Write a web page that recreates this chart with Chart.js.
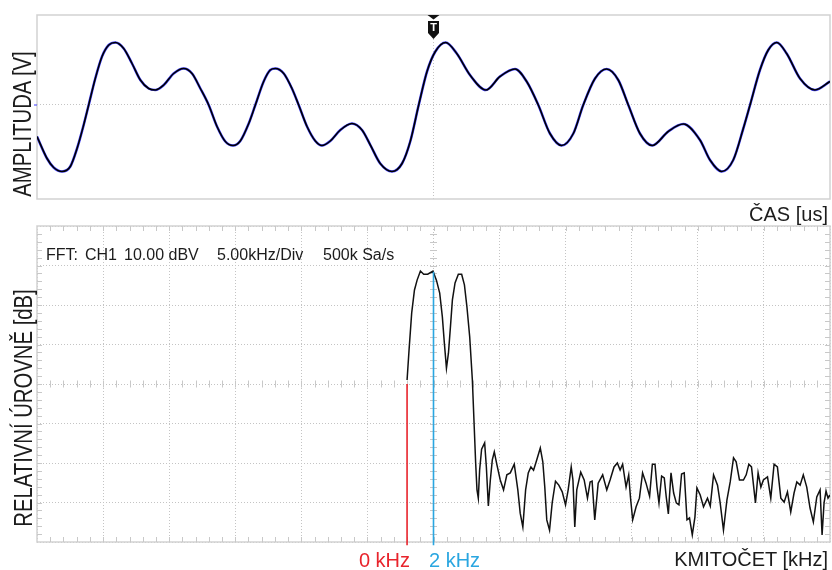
<!DOCTYPE html>
<html lang="cs">
<head>
<meta charset="utf-8">
<title>Osciloskop - FFT</title>
<script src="https://cdn.jsdelivr.net/npm/chart.js@4.4.1/dist/chart.umd.min.js"></script>
<style>
    body { margin: 0; background: #fff; width: 832px; height: 570px; overflow: hidden; position: relative; font-family: "Liberation Sans", Arial, sans-serif; color: #1c1c1c; }
    canvas { position: absolute; left: 0; }
    #chartTime { top: 0; }
    #chartFft { top: 205px; }
    .lbl { position: absolute; font-size: 20px; line-height: 20px; white-space: nowrap; }
    .fft { position: absolute; font-size: 16px; line-height: 16px; white-space: nowrap; top: 247px; }
    .ytitle { position: absolute; width: 0; height: 0; }
    .ytitle span { position: absolute; left: 0; top: 0; font-size: 26px; line-height: 26px; white-space: nowrap;
        transform: translate(-50%, -50%) rotate(-90deg) scaleX(0.78); }
</style>
</head>
<body>
<canvas id="chartTime" width="832" height="205"></canvas>
<canvas id="chartFft" width="832" height="365"></canvas>

<div class="ytitle" style="left:22px; top:124px;"><span>AMPLITUDA [V]</span></div>
<div class="ytitle" style="left:22.5px; top:408px;"><span>RELATIVNÍ ÚROVNĚ [dB]</span></div>
<div class="lbl" style="right:4px; top:204px;">ČAS [us]</div>
<div class="lbl" style="right:4px; top:549px;">KMITOČET [kHz]</div>
<div class="lbl" style="right:422px; top:550px; color:#e8242c;">0 kHz</div>
<div class="lbl" style="left:429px; top:550px; color:#2aa6e0;">2 kHz</div>

<div class="fft" style="left:46px;">FFT:</div>
<div class="fft" style="left:85px;">CH1</div>
<div class="fft" style="left:124px;">10.00 dBV</div>
<div class="fft" style="left:217px;">5.00kHz/Div</div>
<div class="fft" style="left:323px;">500k Sa/s</div>

<script>
// ---- casovy prubeh (horni graf) ----
const WAVE_T = [-300, -292.4, -287.4, -281.1, -274.8, -269.7, -264.7, -260.9, -255.9, -250.8,
    -245.7, -240.7, -234.4, -228.1, -221.8, -215.5, -210.5, -204.1, -196.6, -189.0,
    -182.7, -176.4, -170.1, -163.8, -157.5, -151.7, -146.2, -139.8, -134.8, -128.5,
    -123.5, -119.7, -113.3, -107.1, -102.0, -95.7, -89.4, -84.4, -78.1, -70.5,
    -61.7, -54.1, -47.8, -40.3, -31.4, -23.8, -17.6, -11.2, -4.9, 1.4,
    9.2, 17.6, 27.6, 39.7, 50.3, 61.7, 70.5, 79.3, 88.1, 97.0,
    105.8, 113.3, 122.2, 131.0, 139.8, 147.4, 156.2, 165.5, 177.6, 189.0,
    201.6, 209.2, 218.1, 226.8, 234.4, 239.5, 247.0, 253.3, 259.7, 267.2,
    277.3, 288.6, 300];
const WAVE_V = [-0.63, -1.07, -1.25, -1.33, -1.23, -0.87, -0.40, 0, 0.53, 0.97,
    1.20, 1.25, 1.13, 0.83, 0.50, 0.33, 0.30, 0.40, 0.63, 0.73,
    0.63, 0.33, 0, -0.43, -0.73, -0.81, -0.72, -0.37, 0, 0.47,
    0.70, 0.73, 0.63, 0.33, 0, -0.43, -0.72, -0.81, -0.72, -0.50,
    -0.37, -0.50, -0.80, -1.17, -1.33, -1.17, -0.73, 0, 0.67, 1.07,
    1.25, 1.03, 0.60, 0.30, 0.57, 0.72, 0.47, 0, -0.57, -0.81,
    -0.57, 0, 0.53, 0.72, 0.50, 0, -0.57, -0.81, -0.53, -0.38,
    -0.70, -1.10, -1.33, -1.10, -0.47, 0, 0.70, 1.10, 1.25, 1.03,
    0.53, 0.30, 0.47];
const TIME_RANGE = [-300, 300];
const AMP_RANGE = [-1.88, 1.8];
const TIME_GRID = [0];
const AMP_GRID = [0];

// ---- spektrum (dolni graf) ----
const SPEC_F = [0, 0.15, 0.35, 0.56, 0.76, 1.01, 1.26, 1.56, 1.96, 2.22,
    2.47, 2.67, 2.82, 2.98, 3.13, 3.28, 3.43, 3.63, 3.88, 4.13,
    4.34, 4.53, 4.74, 4.94, 5.09, 5.19, 5.29, 5.39, 5.49, 5.64,
    5.87, 6.00, 6.15, 6.30, 6.45, 6.60, 6.80, 7.05, 7.30, 7.55,
    7.81, 8.11, 8.38, 8.56, 8.76, 8.97, 9.17, 9.37, 9.57, 9.77,
    10.08, 10.27, 10.42, 10.57, 10.78, 10.98, 11.23, 11.48, 11.74, 11.99,
    12.19, 12.42, 12.55, 12.69, 12.84, 13.14, 13.40, 13.65, 13.85, 14.00,
    14.20, 14.46, 14.80, 15.11, 15.36, 15.66, 15.91, 16.12, 16.31, 16.57,
    16.77, 16.90, 17.07, 17.33, 17.58, 17.82, 18.08, 18.35, 18.56, 18.76,
    18.91, 19.06, 19.26, 19.46, 19.61, 19.77, 19.97, 20.17, 20.37, 20.57,
    20.77, 20.97, 21.18, 21.37, 21.58, 21.78, 21.93, 22.18, 22.43, 22.73,
    22.94, 23.19, 23.49, 23.69, 23.94, 24.20, 24.45, 24.70, 24.90, 25.15,
    25.45, 25.66, 25.86, 26.06, 26.36, 26.56, 26.77, 26.96, 27.27, 27.52,
    27.77, 28.02, 28.28, 28.53, 28.78, 29.03, 29.28, 29.49, 29.74, 29.98,
    30.24, 30.49, 30.74, 31.00, 31.25, 31.40, 31.55, 31.70, 31.85, 32.00];
const SPEC_DB = [-29.0, -21.4, -12.0, -6.2, -3.7, -1.4, -2.2, -2.2, -1.4, -3.7,
    -7.0, -13.0, -19.6, -26.0, -22.2, -15.6, -8.7, -4.4, -2.2, -2.2,
    -4.9, -10.5, -18.1, -29.0, -41.6, -50.0, -56.8, -58.9, -51.8, -46.5,
    -44.9, -51.0, -60.9, -54.3, -49.2, -47.2, -50.5, -54.3, -56.8, -53.0,
    -52.5, -50.3, -56.8, -62.7, -66.2, -56.8, -52.5, -51.0, -51.8, -49.7,
    -46.2, -49.7, -56.1, -64.4, -67.0, -60.1, -54.6, -55.6, -57.3, -60.6,
    -56.8, -51.0, -54.3, -66.2, -56.8, -52.3, -54.3, -58.9, -54.8, -54.6,
    -64.4, -55.1, -53.0, -56.8, -54.3, -51.0, -50.0, -51.8, -50.3, -56.1,
    -53.0, -58.6, -64.4, -61.1, -58.9, -52.5, -55.1, -58.4, -50.3, -50.3,
    -56.1, -60.1, -53.3, -53.8, -58.6, -62.9, -52.5, -57.6, -60.1, -60.6,
    -52.8, -52.5, -64.4, -63.9, -68.2, -63.7, -56.3, -58.1, -61.1, -58.9,
    -60.9, -53.0, -55.6, -60.1, -67.0, -59.4, -54.8, -48.7, -49.7, -54.3,
    -54.3, -53.0, -50.3, -51.0, -60.1, -52.5, -56.1, -54.3, -53.5, -58.9,
    -50.3, -51.0, -58.9, -59.9, -57.3, -62.4, -57.6, -54.8, -55.6, -53.0,
    -56.1, -61.4, -64.9, -58.6, -56.8, -68.2, -60.1, -57.1, -58.9, -58.1];
const FREQ_RANGE = [-28, 32];
const DB_RANGE = [-70, 10];
const FREQ_GRID = [-28, -23, -18, -13, -8, -3, 2, 7, 12, 17, 22, 27, 32];
const DB_GRID = [-70, -60, -50, -40, -30, -20, -10, 0, 10];

// znacky 0 kHz a 2 kHz
const MARK_F = [0, 2];
const MARK_TOP = [-30, -1.6];
const MARK_BOTTOM = -70.8;
const MARK_COLORS = ['#e8242c', '#2aa6e0'];

const GRID_COLOR = '#c4c4c4';
const FRAME_COLOR = '#d2d2d2';

function toPoints(xs, ys) {
    return xs.map((x, i) => ({ x: x, y: ys[i] }));
}

function gridAxis(range, ticks) {
    return {
        type: 'linear',
        min: range[0],
        max: range[1],
        afterBuildTicks: axis => { axis.ticks = ticks.map(v => ({ value: v })); },
        ticks: { display: false },
        grid: { color: GRID_COLOR, lineWidth: 1, drawTicks: false },
        border: { display: false, dash: [1, 2] }
    };
}

function drawFrame(chart) {
    const { ctx, chartArea: a } = chart;
    ctx.save();
    ctx.strokeStyle = FRAME_COLOR;
    ctx.lineWidth = 1.5;
    ctx.strokeRect(a.left, a.top, a.right - a.left, a.bottom - a.top);
    ctx.restore();
}

const timePlugin = {
    id: 'timeDeco',
    beforeDatasetsDraw(chart) {
        drawFrame(chart);
        // znacka nulove urovne vlevo
        const y0 = chart.scales.y.getPixelForValue(0);
        const ctx = chart.ctx;
        ctx.save();
        ctx.strokeStyle = '#3b3bff';
        ctx.lineWidth = 1;
        ctx.beginPath();
        ctx.moveTo(chart.chartArea.left - 3, y0);
        ctx.lineTo(chart.chartArea.left, y0);
        ctx.stroke();
        ctx.restore();
    },
    afterDatasetsDraw(chart) {
        // znacka triggeru
        const ctx = chart.ctx;
        const x = chart.scales.x.getPixelForValue(0);
        const top = chart.chartArea.top;
        ctx.save();
        ctx.fillStyle = '#111';
        ctx.beginPath();
        ctx.moveTo(x - 6, top);
        ctx.lineTo(x + 6, top);
        ctx.lineTo(x, top + 4.5);
        ctx.closePath();
        ctx.fill();
        ctx.beginPath();
        ctx.moveTo(x - 5.5, top + 6);
        ctx.lineTo(x + 5.5, top + 6);
        ctx.lineTo(x + 5.5, top + 18);
        ctx.lineTo(x, top + 24);
        ctx.lineTo(x - 5.5, top + 18);
        ctx.closePath();
        ctx.fill();
        ctx.fillStyle = '#fff';
        ctx.font = 'bold 11px "Liberation Sans", Arial, sans-serif';
        ctx.textAlign = 'center';
        ctx.textBaseline = 'middle';
        ctx.fillText('T', x, top + 13);
        ctx.restore();
    }
};

const fftPlugin = {
    id: 'fftDeco',
    beforeDatasetsDraw(chart) {
        drawFrame(chart);
        const { ctx, chartArea: a, scales } = chart;
        const xc = scales.x.getPixelForValue(2);
        const yc = scales.y.getPixelForValue(-30);
        ctx.save();
        ctx.strokeStyle = '#c8c8c8';
        ctx.lineWidth = 1;
        ctx.beginPath();
        for (let f = FREQ_RANGE[0] + 1; f < FREQ_RANGE[1]; f++) {
            const x = Math.round(scales.x.getPixelForValue(f)) + 0.5;
            ctx.moveTo(x, a.top); ctx.lineTo(x, a.top + 5);
            ctx.moveTo(x, a.bottom); ctx.lineTo(x, a.bottom - 5);
            ctx.moveTo(x, yc - 3.5); ctx.lineTo(x, yc + 3.5);
        }
        for (let d = DB_RANGE[0] + 2; d < DB_RANGE[1]; d += 2) {
            const y = Math.round(scales.y.getPixelForValue(d)) + 0.5;
            ctx.moveTo(a.left, y); ctx.lineTo(a.left + 5, y);
            ctx.moveTo(a.right, y); ctx.lineTo(a.right - 5, y);
            ctx.moveTo(xc - 3.5, y); ctx.lineTo(xc + 3.5, y);
        }
        ctx.stroke();
        ctx.restore();
    }
};

// prvni dataset se kresli navrch: cerna stopa nad modrym okrajem
new Chart(document.getElementById('chartTime'), {
    type: 'line',
    data: {
        datasets: [{
            data: toPoints(WAVE_T, WAVE_V),
            borderColor: '#000',
            borderWidth: 1.6,
            pointRadius: 0,
            cubicInterpolationMode: 'monotone'
        }, {
            data: toPoints(WAVE_T, WAVE_V),
            borderColor: '#4646ff',
            borderWidth: 2.6,
            pointRadius: 0,
            cubicInterpolationMode: 'monotone'
        }]
    },
    options: {
        responsive: false,
        animation: false,
        events: [],
        layout: { padding: { left: 37, top: 15, right: 2, bottom: 6 } },
        plugins: { legend: { display: false }, tooltip: { enabled: false } },
        scales: {
            x: gridAxis(TIME_RANGE, TIME_GRID),
            y: gridAxis(AMP_RANGE, AMP_GRID)
        }
    },
    plugins: [timePlugin]
});

const markerSets = MARK_F.map((f, i) => ({
    data: [{ x: f, y: MARK_TOP[i] }, { x: f, y: MARK_BOTTOM }],
    borderColor: MARK_COLORS[i],
    borderWidth: 1.6,
    pointRadius: 0,
    clip: { left: 0, top: 0, right: 0, bottom: 6 }
}));

new Chart(document.getElementById('chartFft'), {
    type: 'line',
    data: {
        datasets: [...markerSets, {
            data: toPoints(SPEC_F, SPEC_DB),
            borderColor: '#111',
            borderWidth: 1.5,
            pointRadius: 0,
            tension: 0
        }]
    },
    options: {
        responsive: false,
        animation: false,
        events: [],
        layout: { padding: { left: 37, top: 21, right: 2, bottom: 28 } },
        plugins: { legend: { display: false }, tooltip: { enabled: false } },
        scales: {
            x: gridAxis(FREQ_RANGE, FREQ_GRID),
            y: gridAxis(DB_RANGE, DB_GRID)
        }
    },
    plugins: [fftPlugin]
});
</script>
</body>
</html>
